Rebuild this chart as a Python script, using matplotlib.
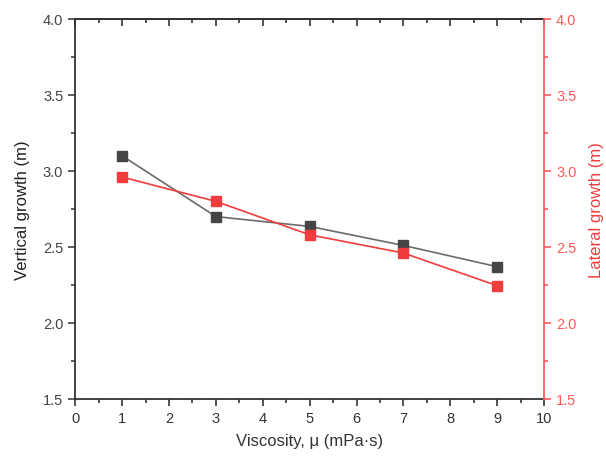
import matplotlib
matplotlib.use('Agg')
import matplotlib.pyplot as plt
from matplotlib.ticker import MultipleLocator, NullFormatter

plt.rcParams['font.family'] = ['Liberation Sans', 'DejaVu Sans']

# data
viscosity = [1, 3, 5, 7, 9]
vertical_growth = [3.10, 2.70, 2.635, 2.51, 2.37]
lateral_growth = [2.96, 2.80, 2.58, 2.46, 2.245]

black = '#454545'
red = '#f03c3c'
red_axis = '#ff5a5a'

fig = plt.figure(figsize=(6.06, 4.64), dpi=100)
ax = fig.add_axes([0.124, 0.138, 0.774, 0.819])
ax2 = ax.twinx()

ax.plot(viscosity, vertical_growth, color='#6a6a6a', lw=1.2, marker='s',
        markersize=6.5, markerfacecolor=black, markeredgecolor=black, zorder=3)
ax2.plot(viscosity, lateral_growth, color=red, lw=1.2, marker='s',
         markersize=6.5, markerfacecolor=red, markeredgecolor=red, zorder=3)

ax.set_xlim(0, 10)
ax.set_ylim(1.5, 4.0)
ax2.set_ylim(1.5, 4.0)

ax.xaxis.set_major_locator(MultipleLocator(1))
ax.xaxis.set_minor_locator(MultipleLocator(0.5))
ax.yaxis.set_major_locator(MultipleLocator(0.5))
ax.yaxis.set_minor_locator(MultipleLocator(0.25))
ax2.yaxis.set_major_locator(MultipleLocator(0.5))
ax2.yaxis.set_minor_locator(MultipleLocator(0.25))

ax.tick_params(axis='x', which='both', direction='out', top=False, labelsize=10.5,
               colors='#333333', width=1.2)
ax.tick_params(axis='x', which='major', length=5)
ax.tick_params(axis='x', which='minor', length=3)
ax.tick_params(axis='y', which='both', direction='out', labelsize=10.5,
               colors='#444444', width=1.2)
ax.tick_params(axis='y', which='major', length=5)
ax.tick_params(axis='y', which='minor', length=3)

# top ticks point inward, no labels
top = ax.secondary_xaxis('top')
top.xaxis.set_major_locator(MultipleLocator(1))
top.xaxis.set_minor_locator(MultipleLocator(0.5))
top.xaxis.set_major_formatter(NullFormatter())
top.tick_params(axis='x', which='both', direction='in', colors='#333333', width=1.2)
top.tick_params(axis='x', which='major', length=5)
top.tick_params(axis='x', which='minor', length=3)
top.spines['top'].set_color('#333333')
top.spines['top'].set_linewidth(1.3)

ax2.tick_params(axis='y', which='both', direction='out', labelsize=10.5,
                colors=red_axis, width=1.2)
ax2.tick_params(axis='y', which='major', length=5)
ax2.tick_params(axis='y', which='minor', length=3)

for s in ['left', 'bottom', 'top']:
    ax.spines[s].set_color('#333333')
    ax.spines[s].set_linewidth(1.3)
ax2.spines['right'].set_color(red_axis)
ax2.spines['right'].set_linewidth(1.3)
ax2.spines['top'].set_visible(False)
ax2.spines['left'].set_visible(False)
ax2.spines['bottom'].set_visible(False)
ax.spines['right'].set_visible(False)

ax.set_xlabel('Viscosity, μ (mPa·s)', fontsize=12, color='#333333', labelpad=6)
ax.set_ylabel('Vertical growth (m)', fontsize=12, color='#222222', labelpad=9)
ax2.set_ylabel('Lateral growth (m)', fontsize=12, color=red, labelpad=9)

plt.savefig('out.png', dpi=100)
plt.close()
